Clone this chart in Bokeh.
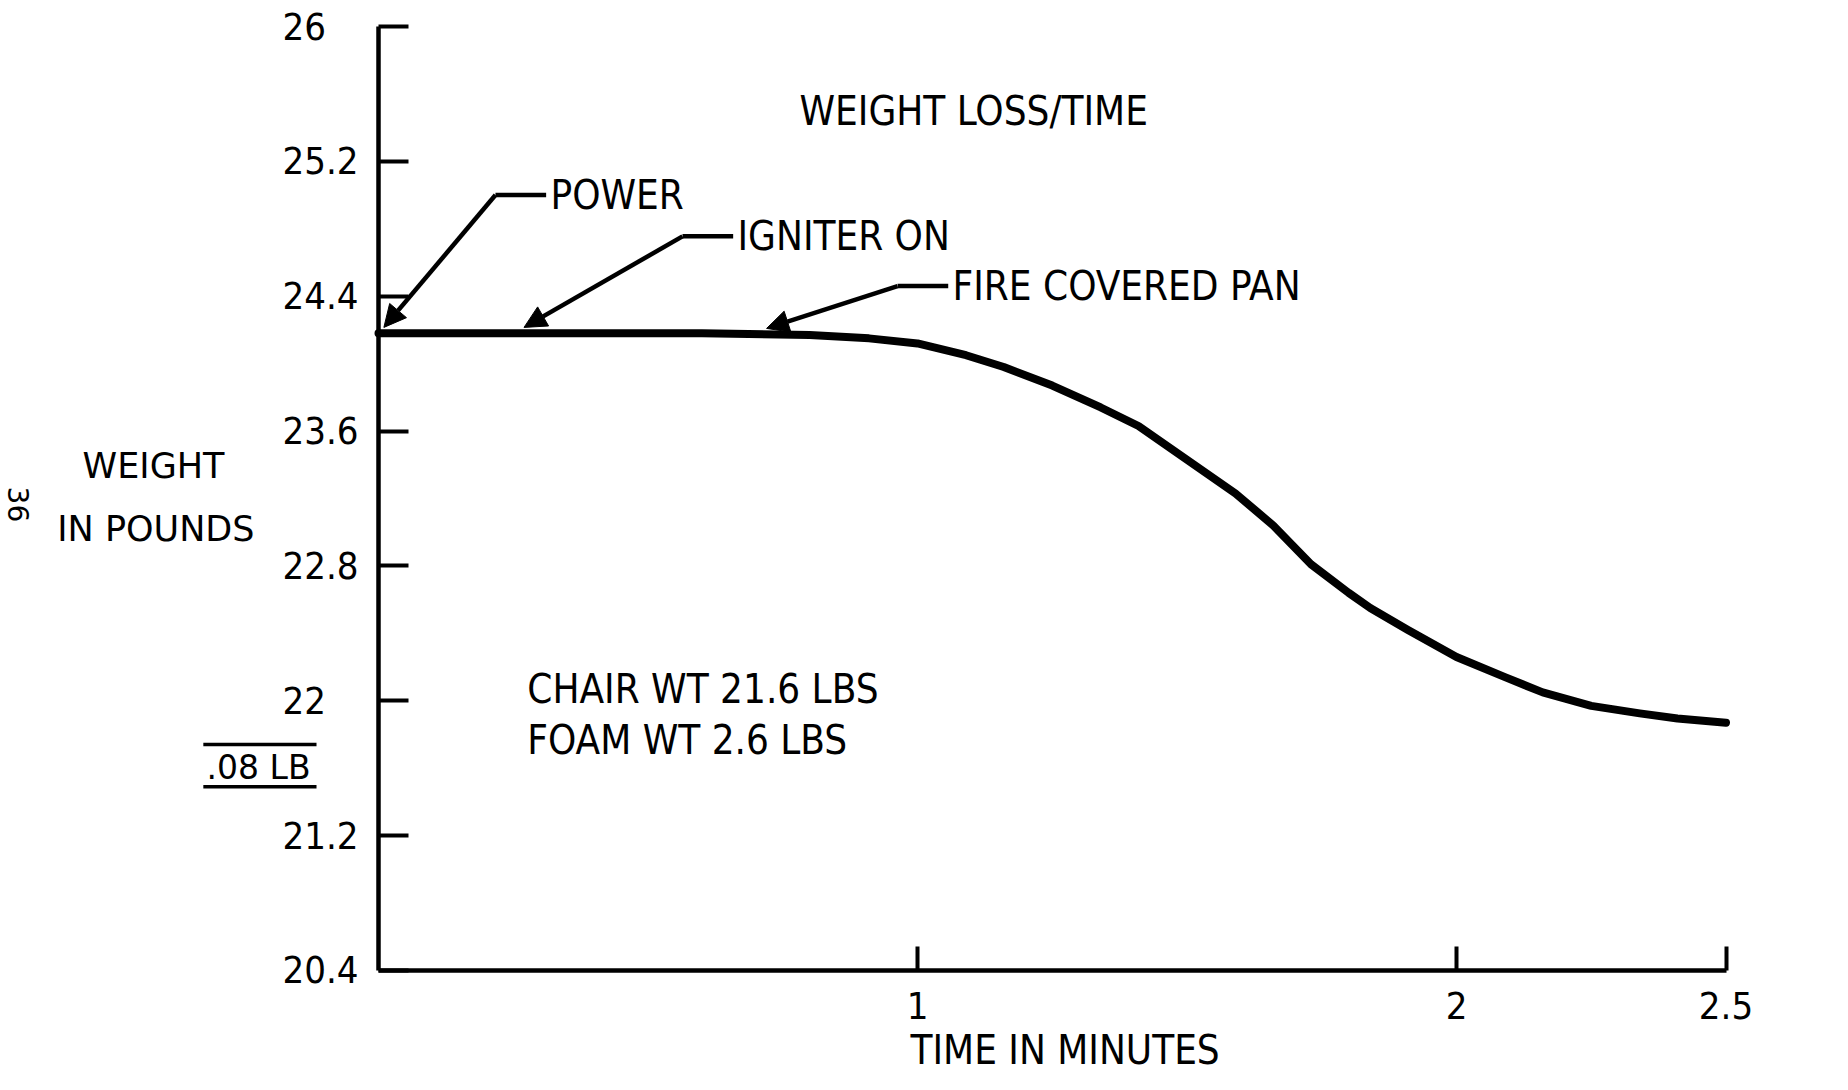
import numpy as np
from bokeh.plotting import figure
from bokeh.models import Label, Arrow, NormalHead, FixedTicker, Range1d
from bokeh.embed import file_html
from bokeh.resources import INLINE

# ---- data ----
time_min = [0.0, 0.2, 0.4, 0.6, 0.8, 0.91, 1.0, 1.09, 1.16, 1.25, 1.34, 1.41,
            1.5, 1.59, 1.66, 1.73, 1.8, 1.84, 1.91, 2.0, 2.09, 2.16, 2.25, 2.34, 2.41, 2.5]
weight_lb = [24.18, 24.18, 24.18, 24.18, 24.17, 24.15, 24.12, 24.05, 23.98, 23.87, 23.74, 23.63,
             23.43, 23.23, 23.04, 22.81, 22.64, 22.55, 22.42, 22.26, 22.14, 22.05, 21.97, 21.925,
             21.895, 21.87]

y_ticks = [20.4, 21.2, 22, 22.8, 23.6, 24.4, 25.2, 26]
y_tick_labels = ["20.4", "21.2", "22", "22.8", "23.6", "24.4", "25.2", "26"]
x_ticks = [1, 2, 2.5]
x_tick_labels = ["1", "2", "2.5"]

event_names = ["POWER", "IGNITER ON", "FIRE COVERED PAN"]
event_times = [0.01, 0.27, 0.72]

title_text = "WEIGHT LOSS/TIME"
x_title = "TIME IN MINUTES"
y_title_lines = ["WEIGHT", "IN POUNDS"]
note_lines = ["CHAIR WT 21.6 LBS", "FOAM WT 2.6 LBS"]
scale_note = ".08 LB"
page_no = "36"

# ---- layout / style constants ----
COND = "DejaVu Sans Condensed"
REG = "DejaVu Sans"
FS = "40px"
TICK_FS = "38px"
INK = "black"
W, H = 1832, 1074
PX_PER_MIN = 539.0
PX_PER_LB = 168.57
X0_PX, Y26_PX = 378.0, 26.0          # where time 0 and weight 26 sit on the canvas

x_start = -X0_PX / PX_PER_MIN
y_end = 26 + Y26_PX / PX_PER_LB

p = figure(width=W, height=H,
           x_range=Range1d(x_start, x_start + W / PX_PER_MIN),
           y_range=Range1d(y_end - H / PX_PER_LB, y_end),
           output_backend="svg", toolbar_location=None,
           min_border=0,
           background_fill_color="white", border_fill_color="white",
           outline_line_color=None)
p.grid.visible = False

for ax in (p.xaxis[0], p.yaxis[0]):
    ax.axis_line_width = 4.5
    ax.axis_line_color = INK
    ax.major_tick_line_width = 4
    ax.major_tick_line_color = INK
    ax.major_tick_out = 0
    ax.minor_tick_in = 0
    ax.minor_tick_out = 0
    ax.major_label_text_font = COND
    ax.major_label_text_font_size = TICK_FS
    ax.major_label_text_color = INK

xa = p.xaxis[0]
xa.ticker = FixedTicker(ticks=x_ticks)
xa.major_label_overrides = dict(zip(x_ticks, x_tick_labels))
xa.major_tick_in = 24
xa.major_label_standoff = 22
xa.fixed_location = y_ticks[0]
xa.bounds = (0, x_ticks[-1])


def flush_left(s, longest=4):
    # pad short labels with figure/punctuation spaces so the typed labels line up on the left
    pad = ""
    for ch in "0.0.0"[len(s):longest]:
        pad += "\u2008" if ch == "." else "\u2007"
    return s + pad


ya = p.yaxis[0]
ya.ticker = FixedTicker(ticks=y_ticks)
ya.major_label_overrides = {t: flush_left(s) for t, s in zip(y_ticks, y_tick_labels)}
ya.major_tick_in = 30
ya.major_label_standoff = 20
ya.fixed_location = 0
ya.bounds = (y_ticks[0], y_ticks[-1])

# curve
p.line(time_min, weight_lb, line_width=8, color=INK, line_cap="round", line_join="round")

# event annotations
label_pos = [(0.319, 25.0), (0.666, 24.755), (1.065, 24.46)]
tips_y = np.interp(event_times, time_min, weight_lb) + 0.035
for name, t, ty, (lx, ly) in zip(event_names, event_times, tips_y, label_pos):
    cx = lx - 0.102
    p.add_layout(Arrow(end=None, x_start=cx, y_start=ly, x_end=lx - 0.008, y_end=ly,
                       line_width=4.5, line_color=INK))
    p.add_layout(Arrow(end=NormalHead(size=22, fill_color=INK, line_color=INK, line_width=1),
                       x_start=cx, y_start=ly, x_end=float(t), y_end=float(ty),
                       line_width=4.5, line_color=INK))
    p.add_layout(Label(x=lx, y=ly, text=name, text_font=COND, text_font_size=FS,
                       text_color=INK, text_baseline="middle", text_align="left"))

# title
p.add_layout(Label(x=0.781, y=25.50, text=title_text, text_font=COND, text_font_size=FS,
                   text_color=INK, text_baseline="middle", text_align="left"))

# notes
for txt, yy in zip(note_lines, [22.07, 21.77]):
    p.add_layout(Label(x=0.276, y=yy, text=txt, text_font=COND, text_font_size=FS,
                       text_color=INK, text_baseline="middle", text_align="left"))

# x-axis title
p.add_layout(Label(x=0.987, y=19.93, text=x_title, text_font=COND, text_font_size=FS,
                   text_color=INK, text_baseline="middle", text_align="left"))

# y-axis title (two lines)
for txt, xx, yy in zip(y_title_lines, [-0.549, -0.596], [23.39, 23.02]):
    p.add_layout(Label(x=xx, y=yy, text=txt, text_font=REG, text_font_size="35px",
                       text_color=INK, text_baseline="middle", text_align="left"))

# scale note with rules above and below
p.add_layout(Label(x=-0.319, y=21.605, text=scale_note, text_font=REG, text_font_size="33px",
                   text_color=INK, text_baseline="middle", text_align="left"))
for yy in (21.74, 21.49):
    p.add_layout(Arrow(end=None, x_start=-0.325, y_start=yy, x_end=-0.115, y_end=yy,
                       line_width=3.5, line_color=INK))

# page number (rotated)
p.add_layout(Label(x=-0.668, y=23.165, text=page_no, text_font=REG, text_font_size="28px",
                   text_color=INK, text_baseline="middle", text_align="center",
                   angle=-np.pi / 2))

open("out.html", "w").write(file_html(p, INLINE))
